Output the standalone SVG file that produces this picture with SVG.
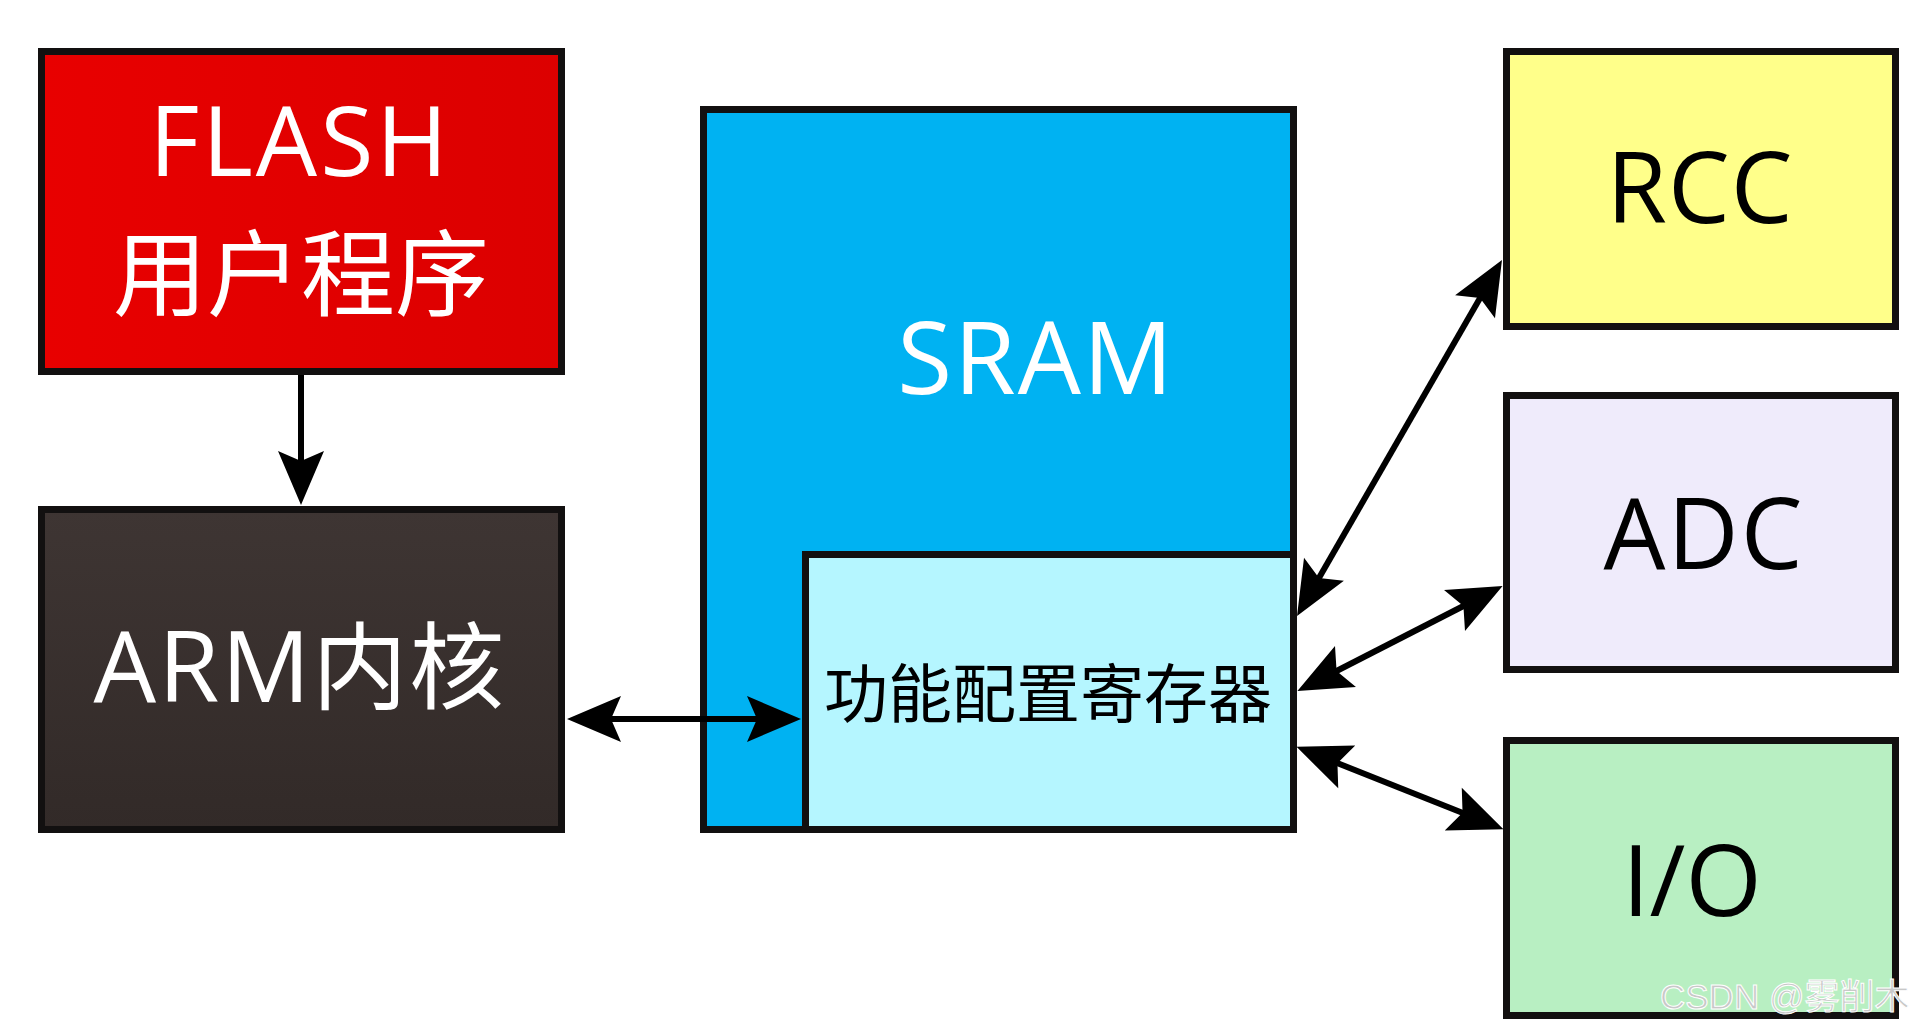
<svg xmlns="http://www.w3.org/2000/svg" width="1916" height="1028" viewBox="0 0 1916 1028">
  <defs>
    <style>
      .box { stroke: #121010; stroke-width: 7; }
      .lbl { font-family: "Open Sans", "Noto Sans CJK SC", sans-serif; text-anchor: middle; }
      .cjk { font-family: "Noto Sans CJK SC", sans-serif; text-anchor: middle; }
      .conn { stroke: #000; stroke-width: 6; fill: none; }
    </style>
    <marker id="ah" markerUnits="userSpaceOnUse" viewBox="-56 -26 58 52" markerWidth="58" markerHeight="52" refX="-22" refY="0" orient="auto-start-reverse">
      <path d="M0,0 L-54,-23 L-44,0 L-54,23 Z" fill="#000"/>
    </marker>
    <linearGradient id="gFlash" x1="0" y1="0" x2="1" y2="0">
      <stop offset="0" stop-color="#E80000"/>
      <stop offset="1" stop-color="#DC0000"/>
    </linearGradient>
    <linearGradient id="gArm" x1="0" y1="0" x2="0" y2="1">
      <stop offset="0" stop-color="#3E3533"/>
      <stop offset="1" stop-color="#322A28"/>
    </linearGradient>
  </defs>
  <rect width="1916" height="1028" fill="#FFFFFF"/>

  <g id="flash">
    <rect class="box" x="41.5" y="51.5" width="520" height="320" fill="url(#gFlash)"/>
    <text class="lbl" x="300" y="176" font-size="97" fill="#FFFFFF" letter-spacing="3">FLASH</text>
    <text class="cjk" x="301" y="309" font-size="94" fill="#FFFFFF">用户程序</text>
  </g>

  <g id="arm">
    <rect class="box" x="41.5" y="509.5" width="520" height="320" fill="url(#gArm)"/>
    <text class="lbl" x="300" y="702" font-size="99" fill="#FFFFFF" letter-spacing="2">ARM<tspan font-family="Noto Sans CJK SC, sans-serif" font-size="95">内核</tspan></text>
  </g>

  <g id="sram">
    <rect class="box" x="703.5" y="109.5" width="590" height="720" fill="#00B2F2"/>
    <text class="lbl" x="1036" y="394" font-size="100" fill="#FFFFFF" letter-spacing="2">SRAM</text>
  </g>

  <g id="regs">
    <rect class="box" x="805.5" y="554.5" width="488" height="275" fill="#B5F6FF"/>
    <text class="cjk" x="1048" y="717" font-size="64" fill="#000000">功能配置寄存器</text>
  </g>

  <g id="rcc">
    <rect class="box" x="1506.5" y="51.5" width="389" height="275" fill="#FFFF8A"/>
    <text class="lbl" x="1700" y="223" font-size="98" fill="#000000" letter-spacing="1">RCC</text>
  </g>

  <g id="adc">
    <rect class="box" x="1506.5" y="395.5" width="389" height="274" fill="#EFEBFB"/>
    <text class="lbl" x="1704" y="569" font-size="98" fill="#000000" letter-spacing="2">ADC</text>
  </g>

  <g id="io">
    <rect class="box" x="1506.5" y="740.5" width="389" height="275" fill="#B8EFC2"/>
    <text class="lbl" x="1692" y="916" font-size="98" fill="#000000">I/O</text>
  </g>

  <g id="connectors">
    <line class="conn" x1="301" y1="375" x2="301" y2="483" marker-end="url(#ah)"/>
    <line class="conn" x1="589" y1="719" x2="779" y2="719" marker-start="url(#ah)" marker-end="url(#ah)"/>
    <line class="conn" x1="1308" y1="597" x2="1491" y2="279" marker-start="url(#ah)" marker-end="url(#ah)"/>
    <line class="conn" x1="1317" y1="681" x2="1483" y2="596" marker-start="url(#ah)" marker-end="url(#ah)"/>
    <line class="conn" x1="1317" y1="755" x2="1483" y2="821" marker-start="url(#ah)" marker-end="url(#ah)"/>
  </g>

  <text x="1660" y="1009" font-family="Liberation Sans, Noto Sans CJK SC, sans-serif" font-size="35" fill="#C8C8C8" stroke="#FFFFFF" stroke-width="1">CSDN @雾削木</text>
</svg>
